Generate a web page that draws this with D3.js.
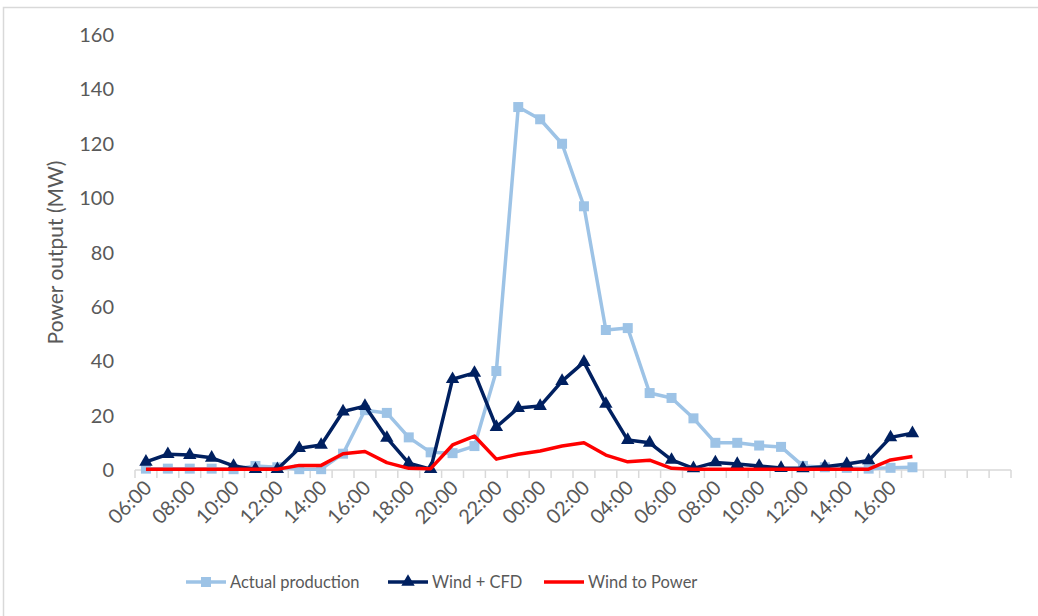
<!DOCTYPE html>
<html>
<head>
<meta charset="utf-8">
<script src="https://cdn.jsdelivr.net/npm/d3@7"></script>
<style>
  body { margin: 0; background: #fff; }
  text { font-family: Lato, "Open Sans", sans-serif; fill: #595959; }
</style>
</head>
<body>
<div id="chart"></div>
<script>
// hourly categories, 06:00 day 1 to 17:00 day 2, plus 4 empty slots at the end
const hours = ["06:00","07:00","08:00","09:00","10:00","11:00","12:00","13:00","14:00","15:00","16:00","17:00",
               "18:00","19:00","20:00","21:00","22:00","23:00","00:00","01:00","02:00","03:00","04:00","05:00",
               "06:00","07:00","08:00","09:00","10:00","11:00","12:00","13:00","14:00","15:00","16:00","17:00",
               "","","",""]
const actualProduction = [0.5,0.5,0.5,0.5,0.3,1.5,1,0.3,0.3,6,22,21,
                          12,6.5,6.2,8.8,36.4,133.5,129,120,97,51.5,52.2,28.3,
                          26.5,19,10,10,9,8.5,1.5,1,0.8,0.5,0.8,1]
const windCFD = [3,5.8,5.5,4.5,1.5,0.3,0.3,8,9.2,21.5,23.5,11.8,
                 2.5,0.3,33.4,35.7,15.8,22.8,23.5,32.7,39.7,24.3,11,10,
                 3.7,0.6,2.8,2.2,1.5,0.7,0.6,1.2,2.2,3.5,12,13.5]
const windToPower = [0.3,0.3,0.3,0.3,0.3,0.3,0.3,1.7,1.7,6,6.8,2.7,
                     0.6,0.5,9.2,12.5,4,5.8,7,8.8,10,5.5,3,3.6,
                     0.6,0.3,0.3,0.3,0.3,0.3,0.3,0.3,0.3,0.3,3.7,5]
const yTicks = [0,20,40,60,80,100,120,140,160]

const series = [
  {name: "Actual production", values: actualProduction, color: "#9DC3E6", marker: d3.symbolSquare, size: 100},
  {name: "Wind + CFD", values: windCFD, color: "#002060", marker: d3.symbolTriangle, size: 78},
  {name: "Wind to Power", values: windToPower, color: "#FF0000", marker: null, size: 0}
]

function chart(){
  const W = 1038, H = 616
  const svg = d3.select("#chart").append("svg").attr("width", W).attr("height", H)

  // chart border (only top and left visible in the picture)
  svg.append("rect").attr("x", 3.5).attr("y", 7.5).attr("width", W + 10).attr("height", H + 10)
     .attr("fill", "none").attr("stroke", "#D9D9D9").attr("stroke-width", 1.5)

  const x = d3.scaleBand().domain(d3.range(hours.length)).range([135, 1011])
  const y = d3.scaleLinear().domain([0, 160]).range([470, 35])
  const cx = i => x(i) + x.bandwidth() / 2

  // y labels
  svg.append("g").selectAll("text").data(yTicks).join("text")
     .attr("x", 114).attr("y", d => y(d)).attr("dy", "0.35em").attr("text-anchor", "end")
     .style("font-size", "20px").text(d => d)

  // y title
  svg.append("text").attr("transform", `translate(63, ${y(80)}) rotate(-90)`).attr("text-anchor", "middle")
     .style("font-size", "21px").text("Power output (MW)")

  // x axis line + ticks between categories
  const ax = svg.append("g")
  ax.append("line").attr("x1", 135).attr("x2", 1011).attr("y1", y(0)).attr("y2", y(0))
    .attr("stroke", "#D9D9D9").attr("stroke-width", 1.5)
  ax.selectAll("line.tick").data(d3.range(hours.length + 1)).join("line").attr("class", "tick")
    .attr("x1", i => 135 + i * x.step()).attr("x2", i => 135 + i * x.step())
    .attr("y1", y(0)).attr("y2", y(0) + 8).attr("stroke", "#D9D9D9").attr("stroke-width", 1.5)

  // x labels every 2 hours
  ax.selectAll("text").data(hours.map((h, i) => ({h, i})).filter(d => d.i % 2 == 0 && d.h))
    .join("text").attr("text-anchor", "end")
    .attr("transform", d => `translate(${cx(d.i) + 7}, ${y(0) + 19}) rotate(-45)`)
    .style("font-size", "20px").text(d => d.h)

  // lines
  const line = d3.line().x((d, i) => cx(i)).y(d => y(d))
  series.forEach(s => {
    svg.append("path").datum(s.values).attr("d", line).attr("fill", "none")
       .attr("stroke", s.color).attr("stroke-width", 3.5).attr("stroke-linejoin", "round")
    if (s.marker) {
      svg.append("g").selectAll("path").data(s.values).join("path")
         .attr("transform", (d, i) => `translate(${cx(i)}, ${y(d)})`)
         .attr("d", d3.symbol().type(s.marker).size(s.size)).attr("fill", s.color)
    }
  })

  // legend
  const legX = [186, 388, 544]
  const leg = svg.append("g").selectAll("g").data(series).join("g")
                 .attr("transform", (d, i) => `translate(${legX[i]}, 582)`)
  leg.append("line").attr("x1", 0).attr("x2", 40).attr("stroke", d => d.color).attr("stroke-width", 3.5)
  leg.filter(d => d.marker).append("path").attr("transform", "translate(20, 0)")
     .attr("d", d => d3.symbol().type(d.marker).size(d.size)()).attr("fill", d => d.color)
  leg.append("text").attr("x", 44).attr("dy", "0.35em").style("font-size", "16.5px").text(d => d.name)
}

chart()
</script>
</body>
</html>
